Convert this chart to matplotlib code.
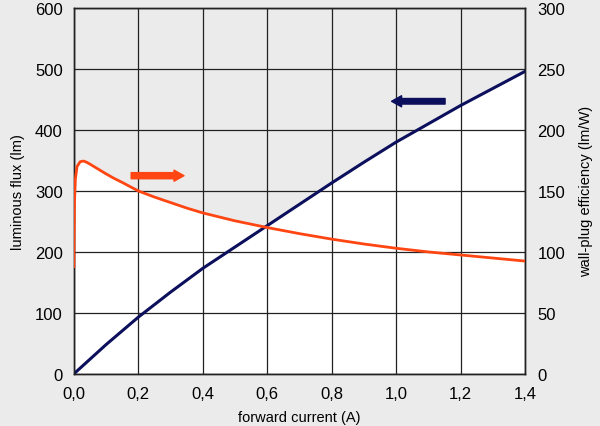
import matplotlib
matplotlib.use("Agg")
import matplotlib.pyplot as plt
import numpy as np

# luminous flux (left axis, lm) vs forward current (A)
current_flux = [0.0, 0.1, 0.2, 0.3, 0.4, 0.5, 0.6, 0.7, 0.8, 0.9, 1.0, 1.1, 1.2, 1.3, 1.4]
flux = [0, 48, 93, 134, 173, 208, 243, 278, 313, 347, 380, 410, 440, 468, 496]

# wall-plug efficiency (right axis, lm/W) vs forward current (A)
current_eff = [0.0, 0.002, 0.005, 0.01, 0.02, 0.03, 0.04, 0.05, 0.075, 0.1, 0.125, 0.15, 0.2, 0.25,
               0.3, 0.35, 0.4, 0.5, 0.6, 0.7, 0.8, 0.9, 1.0, 1.1, 1.2, 1.3, 1.4]
efficiency = [88, 140, 160, 170, 174, 174.5, 173.5, 172, 168, 164, 160.3, 157, 150, 145,
              140.5, 136, 132, 125.5, 120, 115, 110.5, 106.5, 103, 100, 97.5, 95, 92.5]

x_ticks = [0.0, 0.2, 0.4, 0.6, 0.8, 1.0, 1.2, 1.4]
x_ticklabels = ['0,0', '0,2', '0,4', '0,6', '0,8', '1,0', '1,2', '1,4']

plt.rcParams['font.family'] = ['Liberation Sans', 'DejaVu Sans']

bg = '#ebebeb'
blue = '#0c0f5c'
orange = '#ff4612'

fig = plt.figure(figsize=(6, 4.27), dpi=100, facecolor=bg)
ax = fig.add_axes([0.123, 0.122, 0.752, 0.857])
ax.set_facecolor(bg)

# white area under both curves (efficiency converted to left-axis units)
ax.fill_between(current_flux, 0, flux, color='white', lw=0, zorder=1)
ax.fill_between(current_eff, 0, np.array(efficiency) * 2, color='white', lw=0, zorder=1)

ax.plot(current_flux, flux, color=blue, lw=2.2, zorder=3)

ax.set_xlim(0, 1.4)
ax.set_ylim(0, 600)
ax.set_xticks(x_ticks)
ax.set_xticklabels(x_ticklabels)
ax.set_yticks(range(0, 601, 100))
ax.grid(True, color='#222222', lw=0.9)
ax.tick_params(axis='y', length=0, labelsize=12, pad=8)
ax.tick_params(axis='x', length=0, labelsize=12, pad=9)
ax.set_xlabel('forward current (A)', fontsize=10.5, labelpad=6)
ax.set_ylabel('luminous flux (lm)', fontsize=10.5, labelpad=7)
for s in ax.spines.values():
    s.set_color('#222222')
    s.set_linewidth(1.0)

ax2 = ax.twinx()
ax2.plot(current_eff, efficiency, color=orange, lw=2.0, zorder=3)
ax2.set_ylim(0, 300)
ax2.set_yticks(range(0, 301, 50))
ax2.tick_params(length=0, labelsize=12, pad=9)
ax2.set_ylabel('wall-plug efficiency (lm/W)', fontsize=10.5, labelpad=10)
for s in ax2.spines.values():
    s.set_color('#222222')
    s.set_linewidth(1.0)

# arrows showing which axis each curve belongs to
ax.annotate('', xy=(0.342, 325), xytext=(0.178, 325),
            arrowprops=dict(arrowstyle='simple,head_length=0.9,head_width=1.0,tail_width=0.55',
                            color=orange, mutation_scale=8, shrinkA=0, shrinkB=0), zorder=4)
ax.annotate('', xy=(0.986, 447), xytext=(1.152, 447),
            arrowprops=dict(arrowstyle='simple,head_length=0.9,head_width=1.0,tail_width=0.5',
                            color=blue, mutation_scale=8, shrinkA=0, shrinkB=0), zorder=4)

fig.savefig('out.png', dpi=100, facecolor=bg)
